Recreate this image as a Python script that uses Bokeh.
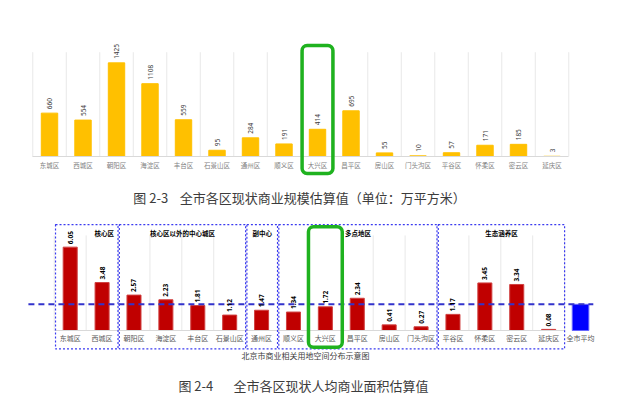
import numpy as np
from bokeh.plotting import figure
from bokeh.layouts import column
from bokeh.models import Range1d, FixedTicker, BoxAnnotation, Label
from bokeh.core.properties import value
from bokeh.embed import file_html
from bokeh.resources import INLINE

# ---------------- data ----------------
districts = ["东城区", "西城区", "朝阳区", "海淀区", "丰台区", "石景山区", "通州区", "顺义区",
             "大兴区", "昌平区", "房山区", "门头沟区", "平谷区", "怀柔区", "密云区", "延庆区"]
scale_values = [660, 554, 1425, 1108, 559, 95, 284, 191, 414, 695, 55, 10, 57, 171, 185, 3]
per_capita_values = [6.05, 3.48, 2.57, 2.23, 1.81, 1.12, 1.47, 1.34, 1.72, 2.34, 0.41, 0.27,
                     1.17, 3.45, 3.34, 0.08]
city_average_label = "全市平均"
city_average_value = 1.9
groups = ["核心区", "核心区以外的中心城区", "副中心", "多点地区", "生态涵养区"]
group_first = [0, 2, 6, 7, 12]
group_last = [1, 5, 6, 11, 15]
group_label_align = ["right", "center", "center", "center", "center"]
highlight = "大兴区"
caption_top = "图 2-3\u00a0\u00a0\u00a0\u00a0全市各区现状商业规模估算值（单位：万平方米）"
caption_bottom = "图 2-4\u00a0\u00a0\u00a0\u00a0\u00a0\u00a0\u00a0全市各区现状人均商业面积估算值"
map_note = "北京市商业相关用地空间分布示意图"

CJK = "Noto Sans CJK SC"
W = 618
n = len(districts)
idx = list(range(n))
hi = districts.index(highlight)
boundaries = [i - 0.5 for i in range(n + 1)]
GREEN = "#1FB21F"

# ---------------- top chart ----------------
p1 = figure(width=W, height=215, output_backend="svg", toolbar_location=None,
            x_range=Range1d(-1.463, 16.985), y_range=Range1d(-898, 2374),
            y_axis_location=None, min_border=0, outline_line_color=None)
p1.min_border_left = p1.min_border_right = p1.min_border_top = p1.min_border_bottom = 0
p1.grid.visible = False

p1.segment(x0=boundaries, y0=0, x1=boundaries, y1=1587, line_color="#E8E8E8", line_width=1)
p1.vbar(x=idx, top=scale_values, width=0.49, fill_color="#FFC000", line_color="#FFC000")
p1.text(x=idx, y=scale_values, text=[str(v) for v in scale_values], angle=np.pi / 2,
        text_align="left", text_baseline="middle", y_offset=-4,
        text_font_size="6.5px", text_color="#404040", text_font=value("Noto Sans"))

ax = p1.xaxis[0]
ax.fixed_location = 0
ax.ticker = FixedTicker(ticks=idx)
ax.major_label_overrides = {i: d for i, d in enumerate(districts)}
ax.bounds = (-0.5, n - 0.5)
ax.axis_line_color = "#D9D9D9"
ax.major_tick_line_color = None
ax.minor_tick_line_color = None
ax.major_tick_out = 0
ax.major_tick_in = 0
ax.minor_tick_out = 0
ax.major_label_standoff = 4
ax.major_label_text_font_size = "6.5px"
ax.major_label_text_color = "#7F7F7F"
ax.major_label_text_font = CJK

p1.add_layout(BoxAnnotation(left=hi - 0.46, right=hi + 0.46, bottom=-259, top=1690,
                            fill_color=None, line_color=GREEN, line_alpha=1.0,
                            line_width=3.5, border_radius=5))
p1.add_layout(Label(x=299, y=18.5, x_units="screen", y_units="screen", text=caption_top,
                    text_align="center", text_baseline="middle", text_font_size="13px",
                    text_color="#3C3C3C", text_font=CJK))

# ---------------- bottom chart ----------------
cats2 = districts + [city_average_label]
p2 = figure(width=W, height=189, output_backend="svg", toolbar_location=None,
            x_range=Range1d(-2.185, 17.19), y_range=Range1d(-5.37, 8.345),
            y_axis_location=None, min_border=0, outline_line_color=None)
p2.min_border_left = p2.min_border_right = p2.min_border_top = p2.min_border_bottom = 0
p2.grid.visible = False

p2.segment(x0=boundaries, y0=0, x1=boundaries, y1=6.9, line_color="#E8E8E8", line_width=1)
p2.vbar(x=idx, top=per_capita_values, width=0.44, fill_color="#C00000", line_color="#D04040")
p2.vbar(x=[n], top=[city_average_value], width=0.52, fill_color="#0000FF", line_color="#6666FF")
p2.segment(x0=[-1.31], y0=[city_average_value], x1=[16.4], y1=[city_average_value],
           line_color="#3333CC", line_width=2, line_dash="6 4")
p2.text(x=idx, y=per_capita_values, text=[f"{v:.2f}" for v in per_capita_values],
        angle=np.pi / 2, text_align="left", text_baseline="middle", y_offset=-3,
        text_font_size="6.5px", text_font_style="bold", text_color="#000000",
        text_font=value("Noto Sans"))

ax2 = p2.xaxis[0]
ax2.fixed_location = 0
ax2.ticker = FixedTicker(ticks=list(range(len(cats2))))
ax2.major_label_overrides = {i: c for i, c in enumerate(cats2)}
ax2.bounds = (-0.5, n - 0.5)
ax2.axis_line_color = "#D9D9D9"
ax2.major_tick_line_color = None
ax2.minor_tick_line_color = None
ax2.major_tick_out = 0
ax2.major_tick_in = 0
ax2.minor_tick_out = 0
ax2.major_label_standoff = 3
ax2.major_label_text_font_size = "7px"
ax2.major_label_text_color = "#595959"
ax2.major_label_text_font = CJK

for g, a, b, al in zip(groups, group_first, group_last, group_label_align):
    left, right = a - 0.46, b + 0.5
    p2.add_layout(BoxAnnotation(left=left, right=right, bottom=-1.34, top=7.69,
                                fill_color=None, line_color="#3A3AF0", line_alpha=1.0,
                                line_width=1.2, line_dash="2 2"))
    lx = right - 0.13 if al == "right" else (left + right) / 2
    p2.add_layout(Label(x=lx, y=7.11, text=g, text_align=al, text_baseline="middle",
                        text_font_size="6.5px", text_font_style="bold",
                        text_color="#000000", text_font=CJK))

p2.add_layout(BoxAnnotation(left=hi - 0.53, right=hi + 0.53, bottom=-1.21, top=7.53,
                            fill_color=None, line_color=GREEN, line_alpha=1.0,
                            line_width=3.5, border_radius=5))
p2.add_layout(Label(x=305, y=49.5, x_units="screen", y_units="screen", text=map_note,
                    text_align="center", text_baseline="middle", text_font_size="8px",
                    text_color="#404040", text_font=CJK))
p2.add_layout(Label(x=303, y=19, x_units="screen", y_units="screen", text=caption_bottom,
                    text_align="center", text_baseline="middle", text_font_size="13px",
                    text_color="#3C3C3C", text_font=CJK))

layout = column(p1, p2, spacing=0)
open("out.html", "w").write(file_html(layout, INLINE))
